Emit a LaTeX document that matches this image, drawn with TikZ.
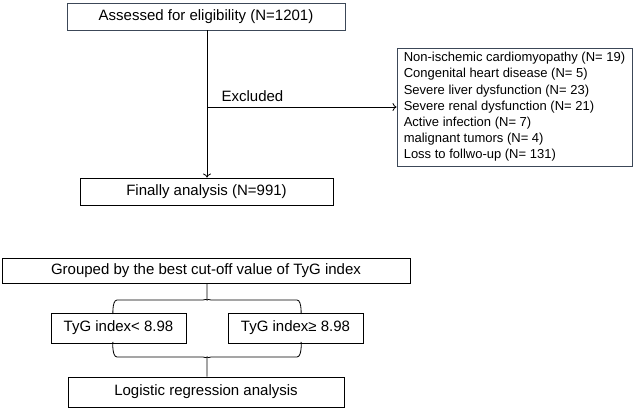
\documentclass[tikz,border=0pt]{standalone}
\usepackage{fontspec}
\setmainfont{Liberation Sans}
\usetikzlibrary{positioning}
\usetikzlibrary{arrows.meta}
\tikzset{box/.style={draw=black,line width=0.9pt,inner sep=0pt,font=\fontsize{15}{17}\selectfont}}
\tikzset{greybox/.style={box,draw={rgb,255:red,60;green,72;blue,88}}}
\tikzset{link/.style={line width=0.8pt}}

\begin{document}
\begin{tikzpicture}[x=1pt,y=-1pt,>={To[length=4pt,width=8pt]}]
\useasboundingbox (0,0) rectangle (638,410);
\node[greybox,minimum width=278pt,minimum height=27pt] (assess) at (206,16.5) {Assessed for eligibility (N=1201)};
\node[box,minimum width=253pt,minimum height=27pt] (final) at (206.5,191.5) {Finally analysis (N=991)};
\node[greybox,minimum width=235pt,minimum height=118pt,align=left,
  font=\fontsize{13}{16.2}\selectfont] (excl) at (514.5,107) {Non-ischemic cardiomyopathy (N= 19)\\
Congenital heart disease (N= 5)\\
Severe liver dysfunction (N= 23)\\
Severe renal dysfunction (N= 21)\\
Active infection (N= 7)\\
malignant tumors (N= 4)\\
Loss to follwo-up (N= 131)};
\node[box,minimum width=408pt,minimum height=25pt] (group) at (206,270.5) {Grouped by the best cut-off value of TyG index};
\node[box,minimum width=135pt,minimum height=30pt] (low) at (118.5,328) {TyG index< 8.98};
\node[box,minimum width=135pt,minimum height=30pt] (high) at (295.5,328) {TyG index\symbol{"2265} 8.98};
\node[box,minimum width=276pt,minimum height=30pt] (logit) at (206,392) {Logistic regression analysis};

\coordinate (split) at (207,107);
\coordinate (upbrace) at (207,300);
\coordinate (lowbrace) at (207,357);
\draw[->,link] (assess.south -| split) -- (final.north -| split);
\draw[->,link] (split) -- (excl.west |- split) node[pos=0.24,above=2pt,font=\fontsize{15}{17}\selectfont] {Excluded};

% braces
\draw[link] (113,313) to[out=-90,in=180] (117,300) -- (203,300) to[out=0,in=90] (upbrace) -- (group.south -| split);
\draw[link] (upbrace) to[out=90,in=180] (211,300) -- (297,300) to[out=0,in=-90] (301,313);
\draw[link] (113,343) to[out=90,in=180] (117,357) -- (203,357) to[out=0,in=-90] (lowbrace) -- (logit.north -| split);
\draw[link] (lowbrace) to[out=-90,in=180] (211,357) -- (297,357) to[out=0,in=90] (301,343);
\end{tikzpicture}
\end{document}
